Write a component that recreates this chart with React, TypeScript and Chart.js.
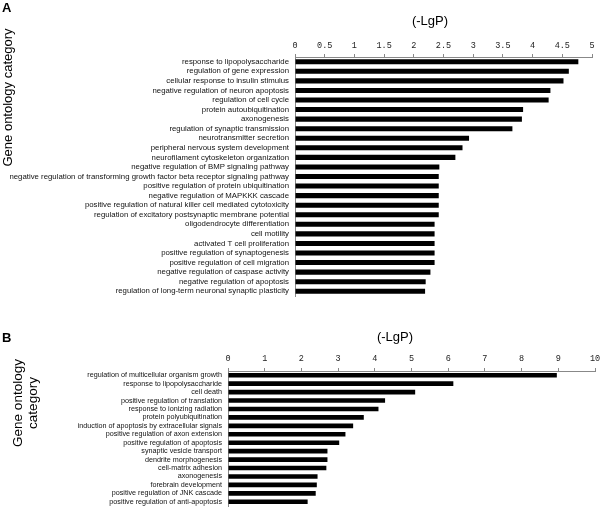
import React, { useEffect, useRef } from "react";
import { Chart, registerables } from "chart.js";

Chart.register(...registerables);

// ---------- Data ----------
const categoriesA: string[] = [
  "response to lipopolysaccharide",
  "regulation of gene expression",
  "cellular response to insulin stimulus",
  "negative regulation of neuron apoptosis",
  "regulation of cell cycle",
  "protein autoubiquitination",
  "axonogenesis",
  "regulation of synaptic transmission",
  "neurotransmitter secretion",
  "peripheral nervous system development",
  "neurofilament cytoskeleton organization",
  "negative regulation of BMP signaling pathway",
  "negative regulation of transforming growth factor beta receptor signaling pathway",
  "positive regulation of protein ubiquitination",
  "negative regulation of MAPKKK cascade",
  "positive regulation of natural killer cell mediated cytotoxicity",
  "regulation of excitatory postsynaptic membrane potential",
  "oligodendrocyte differentiation",
  "cell motility",
  "activated T cell proliferation",
  "positive regulation of synaptogenesis",
  "positive regulation of cell migration",
  "negative regulation of caspase activity",
  "negative regulation of apoptosis",
  "regulation of long-term neuronal synaptic plasticity",
];
const valuesA: number[] = [
  4.77, 4.61, 4.52, 4.3, 4.27, 3.84, 3.82, 3.66, 2.93, 2.82, 2.7, 2.43, 2.42,
  2.42, 2.42, 2.42, 2.42, 2.35, 2.35, 2.35, 2.35, 2.35, 2.28, 2.2, 2.19,
];

const categoriesB: string[] = [
  "regulation of multicellular organism growth",
  "response to lipopolysaccharide",
  "cell death",
  "positive regulation of translation",
  "response to ionizing radiation",
  "protein polyubiquitination",
  "induction of apoptosis by extracellular signals",
  "positive regulation of axon extension",
  "positive regulation of apoptosis",
  "synaptic vesicle transport",
  "dendrite morphogenesis",
  "cell-matrix adhesion",
  "axonogenesis",
  "forebrain development",
  "positive regulation of JNK cascade",
  "positive regulation of anti-apoptosis",
];
const valuesB: number[] = [
  8.96, 6.14, 5.1, 4.28, 4.1, 3.7, 3.41, 3.2, 3.03, 2.71, 2.71, 2.68, 2.44,
  2.42, 2.39, 2.17,
];

const axisMaxA = 5;
const axisStepA = 0.5;
const axisMaxB = 10;
const axisStepB = 1;

const panelLabelA = "A";
const panelLabelB = "B";
const xAxisTitle = "(-LgP)";
const yTitleA = "Gene ontology category";
const yTitleB: string[] = ["Gene ontology", "category"];

// ---------- Helpers ----------
type Txt = {
  text: string;
  x: number;
  y: number;
  font: string;
  rotate?: boolean;
  align?: CanvasTextAlign;
  baseline?: CanvasTextBaseline;
};

function textPlugin(items: Txt[]) {
  return {
    id: "staticTexts",
    afterDraw(chart: any) {
      const ctx: CanvasRenderingContext2D = chart.ctx;
      items.forEach((it) => {
        ctx.save();
        ctx.fillStyle = "#000";
        ctx.font = it.font;
        ctx.textAlign = it.align ?? "center";
        ctx.textBaseline = it.baseline ?? "middle";
        ctx.translate(it.x, it.y);
        if (it.rotate) ctx.rotate(-Math.PI / 2);
        ctx.fillText(it.text, 0, 0);
        ctx.restore();
      });
    },
  };
}

type Cfg = {
  labels: string[];
  values: number[];
  max: number;
  step: number;
  yWidth: number;
  xHeight: number;
  padding: { left: number; right: number; top: number; bottom: number };
  barPct: number;
  labelSize: number;
  tickPad: number;
  texts: Txt[];
};

function makeConfig(c: Cfg): any {
  return {
    type: "bar",
    data: {
      labels: c.labels,
      datasets: [
        {
          data: c.values,
          backgroundColor: "#000",
          borderWidth: 0,
          barPercentage: c.barPct,
          categoryPercentage: 1,
        },
      ],
    },
    options: {
      indexAxis: "y",
      responsive: false,
      animation: false,
      layout: { padding: c.padding },
      plugins: {
        legend: { display: false },
        tooltip: { enabled: false },
      },
      scales: {
        x: {
          position: "top",
          min: 0,
          max: c.max,
          ticks: {
            stepSize: c.step,
            font: { family: "'Liberation Mono', monospace", size: 8.5 },
            color: "#222",
            padding: c.tickPad,
            maxRotation: 0,
            autoSkip: false,
            callback: (v: any) => String(Number(v)),
          },
          grid: {
            drawOnChartArea: false,
            drawTicks: true,
            tickLength: 3,
            color: "#888",
          },
          border: { display: true, color: "#888", width: 1 },
          afterFit: (s: any) => {
            s.height = c.xHeight;
            s.paddingLeft = 0;
            s.paddingRight = 0;
          },
        },
        y: {
          ticks: {
            font: { family: "'Liberation Sans', Arial, sans-serif", size: c.labelSize },
            color: "#111",
            padding: 6,
            autoSkip: false,
          },
          grid: { drawOnChartArea: false, drawTicks: false },
          border: { display: true, color: "#888", width: 1 },
          afterFit: (s: any) => {
            s.width = c.yWidth;
            s.paddingTop = 0;
            s.paddingBottom = 0;
          },
        },
      },
    },
    plugins: [textPlugin(c.texts)],
  };
}

function BarPanel({ cfg, width, height }: { cfg: Cfg; width: number; height: number }) {
  const ref = useRef<HTMLCanvasElement | null>(null);
  useEffect(() => {
    if (!ref.current) return;
    const chart = new Chart(ref.current, makeConfig(cfg));
    return () => chart.destroy();
  }, [cfg]);
  return <canvas ref={ref} width={width} height={height} style={{ display: "block" }} />;
}

const SANS = "'Liberation Sans', Arial, sans-serif";

const cfgA: Cfg = {
  labels: categoriesA,
  values: valuesA,
  max: axisMaxA,
  step: axisStepA,
  yWidth: 295,
  xHeight: 57,
  padding: { left: 0, right: 8, top: 0, bottom: 4 },
  barPct: 0.53,
  labelSize: 7.8,
  tickPad: 3.5,
  texts: [
    { text: panelLabelA, x: 2, y: 11.5, font: `bold 13px ${SANS}`, align: "left", baseline: "alphabetic" },
    { text: xAxisTitle, x: 430, y: 21, font: `13px ${SANS}` },
    { text: yTitleA, x: 8, y: 97.5, font: `13px ${SANS}`, rotate: true },
  ],
};

const cfgB: Cfg = {
  labels: categoriesB,
  values: valuesB,
  max: axisMaxB,
  step: axisStepB,
  yWidth: 228,
  xHeight: 46,
  padding: { left: 0, right: 5, top: 0, bottom: 1 },
  barPct: 0.55,
  labelSize: 7.2,
  tickPad: 4.5,
  texts: [
    { text: panelLabelB, x: 2, y: 16.7, font: `bold 13px ${SANS}`, align: "left", baseline: "alphabetic" },
    { text: xAxisTitle, x: 395, y: 12, font: `13px ${SANS}` },
    { text: yTitleB[0], x: 18, y: 78, font: `13.5px ${SANS}`, rotate: true },
    { text: yTitleB[1], x: 33, y: 78, font: `13.5px ${SANS}`, rotate: true },
  ],
};

export default function App() {
  return (
    <div style={{ position: "absolute", left: 0, top: 0, width: 600, height: 507, background: "#fff" }}>
      <div style={{ position: "absolute", left: 0, top: 0 }}>
        <BarPanel cfg={cfgA} width={600} height={300} />
      </div>
      <div style={{ position: "absolute", left: 0, top: 325 }}>
        <BarPanel cfg={cfgB} width={600} height={182} />
      </div>
    </div>
  );
}
